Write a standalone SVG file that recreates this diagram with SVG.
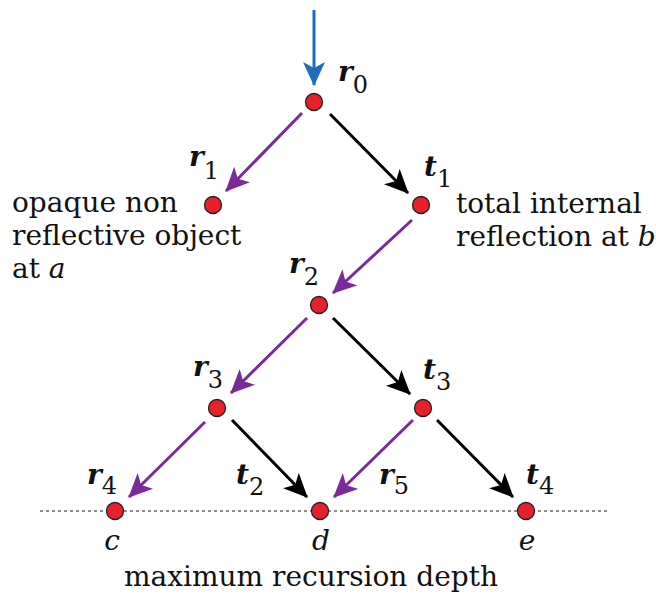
<svg xmlns="http://www.w3.org/2000/svg" width="656" height="594" viewBox="0 0 656 594">
<defs>
<marker id="ak" markerUnits="userSpaceOnUse" markerWidth="28" markerHeight="24" refX="23" refY="11" orient="auto"><path d="M0,0 L24,11 L0,22 L6,11 z" fill="#000"/></marker>
<marker id="ap" markerUnits="userSpaceOnUse" markerWidth="28" markerHeight="24" refX="23" refY="11" orient="auto"><path d="M0,0 L24,11 L0,22 L6,11 z" fill="#7a2b97"/></marker>
<marker id="ab" markerUnits="userSpaceOnUse" markerWidth="28" markerHeight="24" refX="23" refY="11" orient="auto"><path d="M0,0 L24,11 L0,22 L6,11 z" fill="#1c6dbd"/></marker>
</defs>
<style>
.n{fill:#e8202a;stroke:#222;stroke-width:1.3}
.t{font-family:"DejaVu Serif",serif;font-size:28px;fill:#111}
.m{text-anchor:middle}
.v{font-family:"DejaVu Serif",serif;font-size:28px;font-weight:bold;font-style:italic;fill:#111}
.s{font-family:"DejaVu Serif",serif;font-size:24px;font-weight:normal;font-style:normal}
.i{font-style:italic}
.k{stroke:#000;stroke-width:3;fill:none;marker-end:url(#ak)}
.p{stroke:#7a2b97;stroke-width:3;fill:none;marker-end:url(#ap)}
.b{stroke:#1c6dbd;stroke-width:3;fill:none;marker-end:url(#ab)}
</style>
<line x1="40" y1="511" x2="607" y2="511" stroke="#222" stroke-width="1" stroke-dasharray="3,3"/>
<g id="connectors">
<line class="b" x1="314" y1="10" x2="314" y2="85"/>
<line class="p" x1="302" y1="113" x2="226" y2="191"/>
<line class="k" x1="330" y1="114" x2="408" y2="193"/>
<line class="p" x1="412" y1="220" x2="333" y2="293"/>
<line class="p" x1="307" y1="318" x2="231" y2="393"/>
<line class="k" x1="333" y1="318" x2="410" y2="394"/>
<line class="p" x1="205" y1="422" x2="129" y2="497"/>
<line class="k" x1="232" y1="420" x2="307" y2="497"/>
<line class="p" x1="413" y1="420" x2="334" y2="497"/>
<line class="k" x1="437" y1="420" x2="513" y2="497"/>
</g>
<g id="r0"><circle class="n" cx="314" cy="102" r="8.5"/><text class="v" x="338" y="81">r<tspan class="s" dy="12">0</tspan></text></g>
<g id="r1"><circle class="n" cx="213" cy="205" r="8.5"/><text class="v" x="189" y="166">r<tspan class="s" dy="13">1</tspan></text>
<text class="t" x="12" y="212">opaque non</text><text class="t" x="12" y="245">reflective object</text><text class="t" x="12" y="278">at <tspan class="i">a</tspan></text></g>
<g id="t1"><circle class="n" cx="421" cy="205" r="8.5"/><text class="v" x="424" y="176">t<tspan class="s" dy="11">1</tspan></text>
<text class="t" x="456" y="213">total internal</text><text class="t" x="456" y="246">reflection at <tspan class="i">b</tspan></text></g>
<g id="r2"><circle class="n" cx="319" cy="305" r="8.5"/><text class="v" x="289" y="273">r<tspan class="s" dy="12">2</tspan></text></g>
<g id="r3"><circle class="n" cx="217" cy="408" r="8.5"/><text class="v" x="193" y="376">r<tspan class="s" dy="12">3</tspan></text></g>
<g id="t3"><circle class="n" cx="423" cy="408" r="8.5"/><text class="v" x="423" y="379">t<tspan class="s" dy="11">3</tspan></text></g>
<g id="c"><circle class="n" cx="115" cy="511" r="8.5"/><text class="v" x="87" y="484">r<tspan class="s" dy="10">4</tspan></text><text class="t i m" x="112" y="550">c</text></g>
<g id="d"><circle class="n" cx="320" cy="511" r="8.5"/><text class="v" x="236" y="484">t<tspan class="s" dy="11">2</tspan></text><text class="v" x="379" y="484">r<tspan class="s" dy="10">5</tspan></text><text class="t i m" x="321" y="550">d</text></g>
<g id="e"><circle class="n" cx="526" cy="511" r="8.5"/><text class="v" x="526" y="484">t<tspan class="s" dy="10">4</tspan></text><text class="t i m" x="527" y="550">e</text></g>
<text class="t m" x="311" y="586">maximum recursion depth</text>
</svg>
